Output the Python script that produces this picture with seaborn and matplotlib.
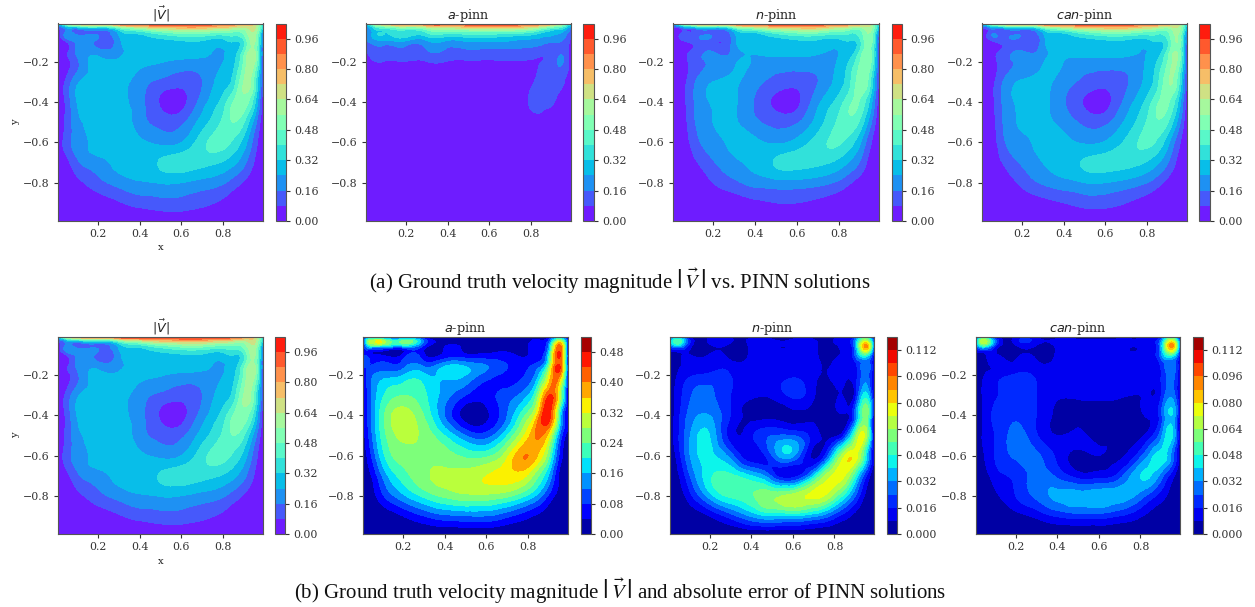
import matplotlib
matplotlib.use("Agg")
import matplotlib.pyplot as plt
import matplotlib.tri as mtri
import numpy as np
import seaborn as sns

# sample positions of the hand-read fields
x_pos = [0.01, 0.05, 0.1, 0.2, 0.3, 0.4, 0.5, 0.6, 0.7, 0.8, 0.85, 0.9, 0.95, 0.99]
y_pos = [-0.01, -0.03, -0.06, -0.1, -0.15, -0.2, -0.3, -0.4, -0.5, -0.6, -0.7, -0.8, -0.9, -0.99]

# velocity magnitude (one row per y_pos)
truth = [
    [.30, .65, .85, .97, 1.0, 1.0, 1.01, 1.01, 1.0, .97, .92, .85, .70, .35],
    [.10, .24, .26, .34, .48, .62, .72, .76, .76, .70, .65, .62, .66, .30],
    [.03, .20, .14, .14, .25, .33, .42, .48, .48, .44, .44, .50, .60, .15],
    [.02, .08, .17, .14, .21, .28, .30, .31, .31, .29, .32, .40, .57, .10],
    [.01, .06, .17, .20, .21, .27, .28, .28, .26, .235, .28, .45, .57, .08],
    [.01, .05, .14, .26, .26, .26, .245, .22, .22, .24, .30, .50, .57, .06],
    [.01, .10, .22, .28, .27, .20, .14, .11, .16, .28, .36, .57, .45, .05],
    [.00, .10, .24, .31, .27, .19, .07, .05, .20, .36, .49, .53, .34, .03],
    [.00, .10, .21, .26, .28, .20, .13, .14, .28, .42, .48, .40, .20, .02],
    [.01, .12, .19, .27, .28, .26, .22, .24, .37, .43, .38, .28, .12, .01],
    [.00, .05, .14, .21, .27, .29, .33, .36, .35, .31, .26, .18, .07, .00],
    [.00, .01, .05, .13, .19, .23, .245, .24, .21, .17, .12, .07, .02, .00],
    [.00, .00, .01, .03, .07, .11, .13, .13, .10, .06, .03, .015, .00, .00],
    [.00, .00, .00, .00, .00, .00, .00, .00, .00, .00, .00, .00, .00, .00],
]
a_pinn = [
    [.30, .65, .85, .97, 1.0, 1.0, 1.01, 1.01, 1.0, .97, .92, .85, .65, .30],
    [.20, .36, .44, .52, .60, .66, .70, .72, .72, .66, .56, .46, .38, .18],
    [.18, .28, .32, .36, .38, .40, .42, .42, .40, .36, .30, .26, .22, .10],
    [.15, .20, .21, .22, .22, .22, .24, .24, .23, .21, .19, .17, .15, .06],
    [.07, .13, .13, .15, .15, .14, .14, .13, .13, .12, .10, .12, .14, .04],
    [.02, .075, .075, .075, .075, .075, .07, .07, .075, .075, .08, .12, .165, .03],
    [.00, .01, .01, .01, .01, .01, .01, .01, .01, .07, .10, .11, .09, .02],
    [.00, .00, .00, .00, .00, .00, .00, .00, .01, .09, .10, .09, .03, .00],
    [.00, .00, .00, .00, .00, .00, .00, .00, .00, .05, .05, .02, .01, .00],
    [.00, .00, .00, .00, .00, .00, .00, .00, .00, .01, .01, .01, .00, .00],
    [.00, .00, .00, .00, .00, .00, .00, .00, .00, .00, .00, .00, .00, .00],
    [.00, .00, .00, .00, .00, .00, .00, .00, .00, .00, .00, .00, .00, .00],
    [.00, .00, .00, .00, .00, .00, .00, .00, .00, .00, .00, .00, .00, .00],
    [.00, .00, .00, .00, .00, .00, .00, .00, .00, .00, .00, .00, .00, .00],
]
n_pinn = [
    [.25, .60, .85, .97, 1.0, 1.0, 1.01, 1.01, 1.0, .97, .92, .85, .65, .30],
    [.08, .15, .22, .30, .46, .60, .70, .74, .74, .66, .60, .56, .60, .25],
    [.03, .09, .11, .12, .22, .30, .40, .46, .46, .42, .40, .44, .54, .12],
    [.02, .05, .10, .11, .20, .27, .28, .30, .30, .29, .31, .38, .52, .09],
    [.01, .04, .09, .16, .19, .25, .26, .26, .25, .24, .27, .42, .50, .06],
    [.01, .04, .10, .17, .22, .23, .21, .21, .21, .25, .33, .48, .50, .05],
    [.00, .04, .13, .24, .25, .19, .13, .11, .16, .28, .38, .53, .40, .03],
    [.00, .04, .14, .25, .25, .15, .06, .06, .22, .36, .46, .47, .28, .02],
    [.00, .03, .13, .24, .25, .18, .13, .15, .28, .42, .46, .38, .18, .01],
    [.00, .02, .10, .21, .26, .26, .23, .27, .36, .41, .36, .25, .09, .01],
    [.00, .01, .05, .15, .22, .27, .33, .35, .34, .29, .23, .15, .04, .00],
    [.00, .00, .01, .08, .14, .19, .21, .21, .19, .14, .09, .04, .01, .00],
    [.00, .00, .00, .01, .03, .06, .08, .08, .06, .03, .01, .00, .00, .00],
    [.00, .00, .00, .00, .00, .00, .00, .00, .00, .00, .00, .00, .00, .00],
]
can_pinn = [
    [.27, .62, .85, .97, 1.0, 1.0, 1.01, 1.01, 1.0, .97, .92, .85, .68, .30],
    [.10, .20, .24, .32, .47, .61, .71, .75, .75, .68, .62, .58, .62, .25],
    [.03, .13, .12, .13, .23, .31, .41, .47, .47, .43, .41, .46, .56, .12],
    [.02, .05, .10, .11, .20, .28, .29, .30, .30, .29, .32, .40, .55, .09],
    [.01, .04, .09, .17, .20, .26, .27, .27, .26, .24, .28, .44, .53, .06],
    [.01, .04, .10, .18, .23, .24, .21, .21, .21, .25, .33, .49, .52, .05],
    [.00, .04, .14, .25, .26, .20, .14, .11, .15, .27, .38, .55, .42, .03],
    [.00, .04, .15, .26, .26, .17, .07, .05, .19, .35, .47, .49, .30, .02],
    [.00, .03, .14, .25, .26, .21, .14, .14, .26, .41, .47, .40, .20, .01],
    [.00, .02, .12, .22, .27, .27, .23, .25, .34, .42, .38, .26, .10, .01],
    [.00, .01, .07, .17, .24, .29, .33, .35, .35, .31, .25, .16, .05, .00],
    [.00, .00, .02, .10, .17, .21, .24, .24, .21, .16, .11, .05, .01, .00],
    [.00, .00, .00, .02, .05, .08, .11, .11, .08, .04, .02, .01, .00, .00],
    [.00, .00, .00, .00, .00, .00, .00, .00, .00, .00, .00, .00, .00, .00],
]

# absolute errors
err_a = [
    [.02, .08, .06, .05, .03, .01, .01, .01, .01, .01, .02, .05, .12, .02],
    [.05, .30, .31, .25, .12, .03, .02, .02, .02, .03, .05, .10, .30, .05],
    [.04, .16, .15, .12, .06, .04, .03, .03, .03, .04, .06, .15, .42, .04],
    [.08, .05, .04, .05, .05, .05, .05, .05, .05, .04, .06, .20, .45, .05],
    [.09, .08, .09, .10, .11, .15, .15, .12, .08, .07, .10, .25, .44, .05],
    [.05, .11, .14, .16, .17, .17, .16, .10, .07, .09, .16, .32, .40, .05],
    [.03, .12, .19, .24, .21, .14, .08, .06, .10, .16, .28, .44, .30, .04],
    [.03, .12, .22, .30, .24, .12, .02, .03, .12, .26, .38, .46, .20, .03],
    [.02, .11, .21, .29, .27, .20, .12, .10, .20, .35, .41, .33, .12, .02],
    [.01, .08, .18, .26, .27, .26, .23, .23, .31, .40, .35, .24, .07, .01],
    [.005, .04, .12, .22, .27, .29, .30, .32, .34, .31, .24, .15, .03, .005],
    [.001, .02, .07, .15, .21, .25, .27, .27, .25, .19, .14, .07, .02, .00],
    [.00, .002, .01, .04, .08, .11, .12, .12, .09, .05, .03, .01, .00, .00],
    [.00, .00, .00, .00, .00, .00, .00, .00, .00, .00, .00, .00, .00, .00],
]
err_n = [
    [.004, .03, .01, .008, .008, .008, .006, .006, .006, .006, .01, .02, .05, .01],
    [.03, .055, .02, .01, .009, .009, .009, .009, .009, .009, .012, .03, .07, .02],
    [.015, .03, .012, .005, .005, .009, .009, .009, .01, .004, .012, .03, .09, .02],
    [.005, .006, .009, .009, .005, .009, .01, .01, .01, .005, .01, .025, .05, .01],
    [.003, .007, .01, .012, .012, .01, .01, .01, .011, .01, .012, .013, .03, .008],
    [.002, .009, .014, .018, .016, .012, .012, .014, .01, .011, .012, .012, .028, .006],
    [.002, .012, .022, .026, .016, .010, .010, .018, .009, .006, .006, .012, .044, .006],
    [.002, .014, .026, .032, .016, .005, .005, .005, .005, .004, .006, .026, .060, .006],
    [.002, .015, .030, .040, .012, .014, .024, .024, .012, .006, .020, .058, .068, .005],
    [.001, .012, .030, .042, .028, .010, .024, .034, .006, .045, .072, .076, .045, .003],
    [.001, .007, .022, .046, .050, .040, .022, .012, .040, .074, .072, .048, .018, .001],
    [.0005, .003, .012, .036, .050, .055, .062, .068, .074, .060, .044, .024, .006, .00],
    [.00, .0005, .002, .008, .02, .033, .04, .04, .034, .02, .012, .005, .001, .00],
    [.00, .00, .00, .00, .00, .00, .00, .00, .00, .00, .00, .00, .00, .00],
]
err_can = [
    [.005, .04, .012, .009, .008, .006, .005, .005, .006, .008, .012, .02, .05, .01],
    [.03, .07, .03, .012, .012, .010, .010, .010, .010, .010, .014, .03, .075, .02],
    [.015, .04, .016, .005, .006, .009, .012, .012, .009, .009, .012, .035, .09, .02],
    [.004, .006, .012, .005, .006, .009, .010, .010, .010, .010, .012, .03, .05, .012],
    [.003, .006, .010, .010, .010, .010, .010, .010, .010, .010, .012, .018, .03, .008],
    [.002, .008, .012, .017, .014, .011, .011, .011, .011, .011, .013, .016, .028, .006],
    [.001, .010, .015, .019, .016, .009, .009, .009, .009, .008, .008, .016, .030, .006],
    [.001, .010, .018, .022, .016, .006, .006, .006, .005, .006, .010, .022, .040, .005],
    [.001, .010, .016, .027, .017, .008, .009, .006, .006, .006, .014, .030, .042, .004],
    [.001, .008, .016, .026, .026, .014, .006, .008, .007, .022, .036, .044, .030, .002],
    [.0005, .004, .012, .018, .027, .022, .012, .012, .020, .040, .040, .028, .012, .001],
    [.00, .002, .006, .016, .026, .034, .036, .038, .036, .028, .020, .012, .004, .00],
    [.00, .0003, .002, .005, .010, .017, .020, .020, .016, .009, .005, .002, .0005, .00],
    [.00, .00, .00, .00, .00, .00, .00, .00, .00, .00, .00, .00, .00, .00],
]

level_step = {"vel": 0.08, "err_a": 0.04, "err_small": 0.008}
level_top = {"vel": 1.04, "err_a": 0.52, "err_small": 0.12}
titles = [r"$|\vec{V}|$", r"$a$-pinn", r"$n$-pinn", r"$can$-pinn"]
caption_a = r"(a) Ground truth velocity magnitude $\left|\,\vec{V}\,\right|$ vs. PINN solutions"
caption_b = r"(b) Ground truth velocity magnitude $\left|\,\vec{V}\,\right|$ and absolute error of PINN solutions"

sns.set_theme(style="ticks")
plt.rcParams["font.family"] = ["DejaVu Serif"]
plt.rcParams["mathtext.fontset"] = "dejavusans"
plt.rcParams["axes.unicode_minus"] = True

W, H = 1255, 607
fig = plt.figure(figsize=(W / 100, H / 100), dpi=100)
edge = "#555555"


def add_box(left, right, top, bottom):
    return fig.add_axes([left / W, 1 - bottom / H, (right - left) / W, (bottom - top) / H])


def panel(field, box, cbar_x, kind, cmap, title, left_label=False, x_label=False):
    ax = add_box(box[0], box[1], box[2], box[3])
    cax = add_box(cbar_x[0], cbar_x[1], box[2], box[3])
    X, Y = np.meshgrid(x_pos, y_pos)
    z = np.array(field, dtype=float).ravel()
    tri = mtri.Triangulation(X.ravel(), Y.ravel())
    # only smooths the contour outlines of the hand-read grid
    interp = mtri.CubicTriInterpolator(tri, z, kind="min_E")
    tri_fine, z_fine = mtri.UniformTriRefiner(tri).refine_field(z, interp, subdiv=3)
    step, top = level_step[kind], level_top[kind]
    levels = np.arange(0, top + step / 2, step)
    z_fine = np.clip(z_fine, 0, top - 1e-6)
    cs = ax.tricontourf(tri_fine, z_fine, levels=levels, cmap=cmap)
    ax.set_xlim(0.01, 0.99)
    ax.set_ylim(-0.99, -0.01)
    ax.set_xticks([0.2, 0.4, 0.6, 0.8])
    ax.set_yticks([-0.2, -0.4, -0.6, -0.8])
    ax.tick_params(labelsize=7.9, length=3, width=0.8, colors="#333333", pad=3)
    ax.set_title(title, fontsize=9.2, pad=3, color="#222222")
    if left_label:
        ax.set_ylabel("y", fontsize=7.2, labelpad=2, color="#222222")
    if x_label:
        ax.set_xlabel("x", fontsize=7.2, labelpad=3, color="#222222")
    for spine in ax.spines.values():
        spine.set_color(edge)
        spine.set_linewidth(0.8)
    cb = fig.colorbar(cs, cax=cax, ticks=levels[::2])
    fmt = "%.3f" if kind == "err_small" else "%.2f"
    cb.ax.set_yticklabels([fmt % v for v in levels[::2]])
    cb.ax.tick_params(labelsize=7.9, length=3, width=0.8, colors="#333333", pad=3)
    cb.outline.set_edgecolor(edge)
    cb.outline.set_linewidth(0.8)


rainbow = sns.mpl_palette("rainbow", 256, as_cmap=True)
jet = sns.mpl_palette("jet", 256, as_cmap=True)

top_row = (23.5, 221)
panel(truth, (58, 263) + top_row, (276, 286), "vel", rainbow, titles[0], True, True)
panel(a_pinn, (366, 571) + top_row, (583, 594), "vel", rainbow, titles[1])
panel(n_pinn, (673, 879) + top_row, (892, 902), "vel", rainbow, titles[2])
panel(can_pinn, (982, 1187) + top_row, (1199, 1210), "vel", rainbow, titles[3])

bottom_row = (337, 534)
panel(truth, (58, 263) + bottom_row, (275, 285), "vel", rainbow, titles[0], True, True)
panel(err_a, (363, 568) + bottom_row, (581, 591), "err_a", jet, titles[1])
panel(err_n, (670, 874) + bottom_row, (887, 897), "err_small", jet, titles[2])
panel(err_can, (976, 1180) + bottom_row, (1193, 1203), "err_small", jet, titles[3])

for caption, x_px, y_px in [(caption_a, 620, 281), (caption_b, 620, 591)]:
    fig.text(x_px / W, 1 - y_px / H, caption, ha="center", va="center",
             fontsize=15.0, family="Liberation Serif", math_fontfamily="stix", color="#111111")

fig.savefig("out.png", dpi=100)
